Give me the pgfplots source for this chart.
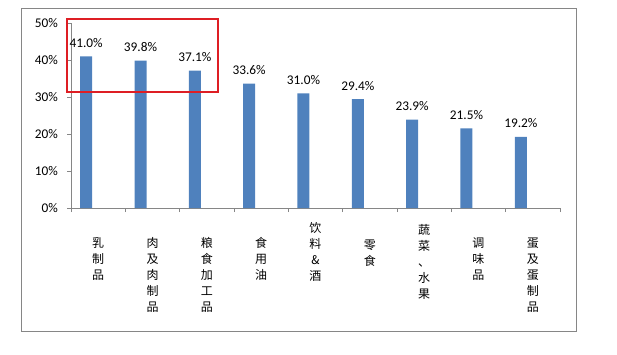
\documentclass[border=0pt]{standalone}
\usepackage{pgfplots}
\pgfplotsset{compat=1.18}
\usepackage{fontspec}
\setmainfont{Carlito}
\newfontfamily\cjk{Noto Sans CJK SC}
\protected\def\vs#1{\vtop{\cjk\fontsize{12pt}{16pt}\selectfont\halign{\hfil##\hfil\cr#1\crcr}}}
\definecolor{barblue}{RGB}{79,129,189}
\definecolor{axgray}{RGB}{134,134,134}
\definecolor{boxred}{RGB}{222,30,36}
\pgfplotstableread{
x y
0.5 41.0
1.5 39.8
2.5 37.1
3.5 33.6
4.5 31.0
5.5 29.4
6.5 23.9
7.5 21.5
8.5 19.2
}\datatable
\begin{document}
\begin{tikzpicture}
\path[use as bounding box] (0,0) rectangle (617pt,-354pt);
\draw[axgray, line width=0.8pt] (21pt,-8pt) rectangle (576pt,-331pt);
\begin{axis}[
  at={(71pt,-208pt)}, anchor=south west,
  scale only axis, width=489pt, height=185pt,
  xmin=0, xmax=9, ymin=0, ymax=50,
  axis x line*=bottom, axis y line*=left,
  axis line style={axgray, line width=0.8pt, -},
  tick style={axgray, line width=0.8pt},
  tick align=outside, major tick length=4pt,
  xtick={0,...,9}, xticklabels={},
  extra x ticks={0.5,1.5,...,8.5},
  extra x tick labels={
    {\vs{乳\cr 制\cr 品}},
    {\vs{肉\cr 及\cr 肉\cr 制\cr 品}},
    {\vs{粮\cr 食\cr 加\cr 工\cr 品}},
    {\vs{食\cr 用\cr 油}},
    {\raisebox{15pt}{\vs{饮\cr 料\cr \&\cr 酒}}},
    {\raisebox{-2pt}{\vs{零\cr 食}}},
    {\raisebox{13pt}{\vs{蔬\cr 菜\cr 、\cr 水\cr 果}}},
    {\vs{调\cr 味\cr 品}},
    {\vs{蛋\cr 及\cr 蛋\cr 制\cr 品}}},
  extra x tick style={major tick length=0pt, tick label style={anchor=base, yshift=-39.6pt}},
  ytick={0,10,...,50},
  yticklabels={0\%,10\%,20\%,30\%,40\%,50\%},
  yticklabel style={anchor=east, inner sep=0pt, xshift=-9pt, font=\fontsize{13.3pt}{16pt}\selectfont},
  /pgf/number format/assume math mode=true,
  ybar, bar width=12pt, bar shift=-12pt,
  nodes near coords={\pgfmathprintnumber[fixed,fixed zerofill,precision=1]{\pgfplotspointmeta}\%},
  every node near coord/.append style={anchor=base, yshift=9pt, font=\fontsize{13.3pt}{16pt}\selectfont, black},
  clip=false,
]
\addplot[fill=barblue, draw=none] table[x=x,y=y] {\datatable};
\end{axis}
\draw[boxred, line width=2pt] (67pt,-19pt) rectangle (218pt,-92pt);
\end{tikzpicture}
\end{document}
